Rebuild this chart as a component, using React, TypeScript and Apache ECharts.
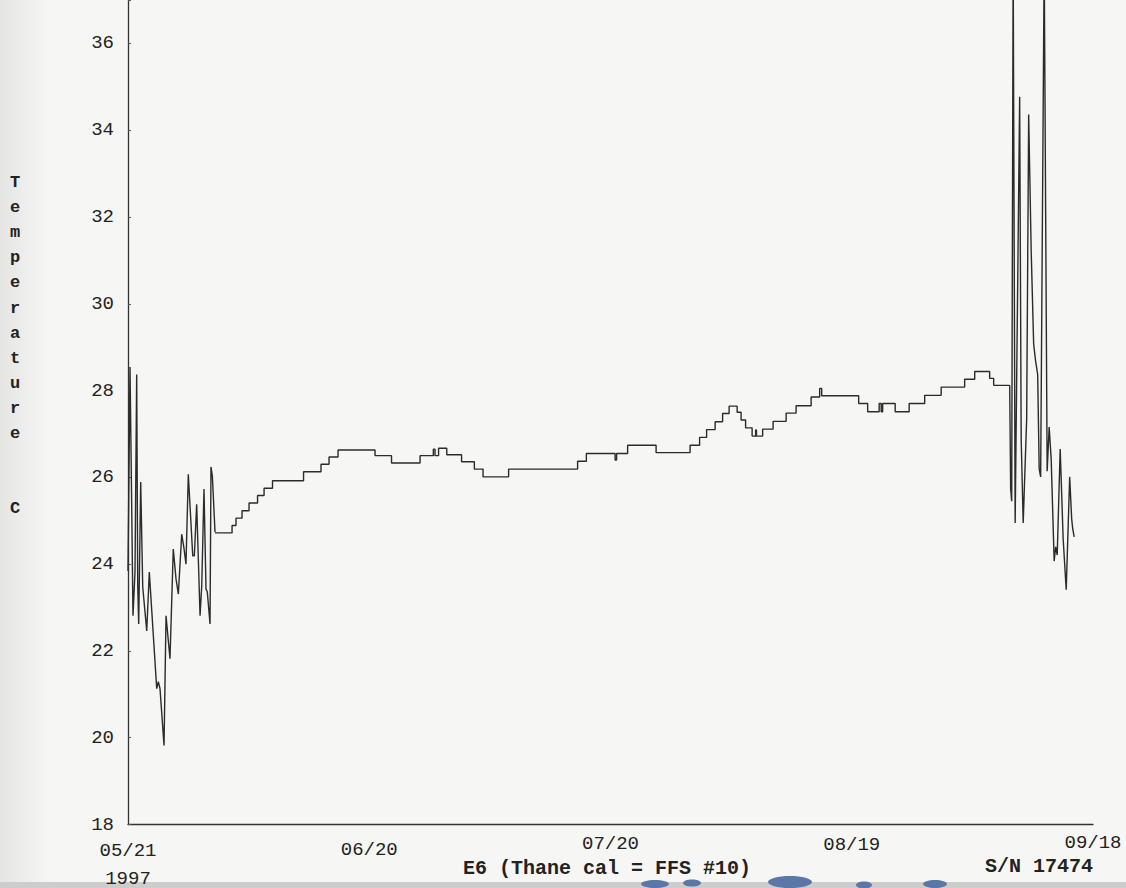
import React, { useEffect, useRef } from "react";
import * as echarts from "echarts";

// x values are days after 05/21/1997
const xTickLabels = ["05/21\n1997", "06/20", "07/20", "08/19", "09/18"];

// early, noisy part of the record
const earlyDays = [0, 0.25, 0.44, 0.62, 0.87, 1.08, 1.21, 1.33, 1.58, 1.83, 2.33, 2.65, 3.57, 3.77, 3.98, 4.48, 4.73, 5.22, 5.63, 5.97, 6.26, 6.68, 6.97, 7.21, 7.5, 8.05, 8.25, 8.54, 8.96, 9.17, 9.45, 9.7, 9.86, 10.2, 10.32, 10.49, 10.82];
const earlyTemps = [23.84, 28.54, 25.66, 22.81, 23.82, 28.37, 23.5, 22.62, 25.89, 23.48, 22.46, 23.82, 21.13, 21.29, 21.13, 19.82, 22.81, 21.82, 24.35, 23.66, 23.31, 24.69, 24.35, 24.0, 26.07, 24.19, 24.19, 25.38, 22.81, 23.5, 25.73, 23.43, 23.36, 22.62, 26.24, 26.03, 24.74];

// stepped (quantised) middle part: each value holds from its day to the next one
const stepDays = [10.82, 12.94, 13.43, 14.18, 15.05, 16.11, 16.92, 17.97, 21.83, 24.0, 25.0, 26.12, 30.72, 32.77, 36.32, 37.97, 38.18, 38.62, 39.64, 41.48, 43.07, 44.15, 47.33, 55.91, 57.0, 60.57, 60.76, 62.13, 65.67, 69.9, 71.08, 71.95, 73.01, 73.94, 74.75, 75.75, 76.24, 76.8, 77.61, 78.05, 78.15, 78.92, 80.22, 81.84, 83.08, 84.95, 86.01, 86.26, 90.86, 91.98, 93.41, 93.66, 93.84, 95.4, 97.14, 99.07, 101.12, 104.04, 105.29, 107.15, 107.65, 109.64];
const stepTemps = [24.72, 24.89, 25.06, 25.23, 25.41, 25.58, 25.75, 25.92, 26.13, 26.3, 26.47, 26.63, 26.5, 26.33, 26.5, 26.65, 26.5, 26.67, 26.52, 26.36, 26.19, 26.01, 26.19, 26.37, 26.55, 26.4, 26.55, 26.74, 26.57, 26.74, 26.92, 27.1, 27.28, 27.47, 27.64, 27.5, 27.32, 27.14, 26.95, 27.09, 26.95, 27.11, 27.29, 27.48, 27.65, 27.85, 28.05, 27.88, 27.7, 27.51, 27.7, 27.51, 27.7, 27.51, 27.7, 27.89, 28.08, 28.26, 28.44, 28.28, 28.12, 28.12];

// late, noisy part of the record
const lateDays = [109.64, 109.76, 109.89, 110.07, 110.32, 110.88, 111.07, 111.32, 111.75, 112.0, 112.31, 112.62, 112.87, 113.12, 113.31, 113.49, 113.93, 114.3, 114.55, 114.8, 115.17, 115.36, 115.55, 115.92, 116.29, 116.67, 117.1, 117.35, 117.48, 117.66];
const lateTemps = [28.12, 25.73, 25.45, 37.92, 24.95, 34.77, 26.88, 24.95, 27.34, 34.36, 31.25, 29.07, 28.67, 28.37, 26.19, 26.01, 37.92, 26.14, 27.16, 26.42, 24.07, 24.4, 24.21, 26.65, 24.58, 23.41, 26.01, 25.04, 24.81, 24.63];

const yAxisTitle = "Temperature  C";
const footLeft = "E6 (Thane cal = FFS #10)";
const footRight = "S/N 17474";

const pairs = (xs: number[], ys: number[]) => xs.map((x, i) => [x, ys[i]]);

export default function App() {
  const ref = useRef<HTMLDivElement>(null);

  useEffect(() => {
    document.body.style.margin = "0";
    if (!ref.current) return;
    const chart = echarts.init(ref.current, undefined, { renderer: "svg" });
    const mono = "'Liberation Mono', 'DejaVu Sans Mono', monospace";
    const lineStyle = { color: "#2b2b2b", width: 1.4 };
    const tickText = { fontFamily: mono, fontSize: 19, color: "#222" };
    // the scanned page is slightly rotated: labels sit a little lower on the left
    const lineHeights = [36, 34, 22, 24, 20];
    const ink = "#5b77a8";
    chart.setOption({
      animation: false,
      backgroundColor: "#f6f6f5",
      grid: { left: 128, right: 33, top: 0, bottom: 62, containLabel: false },
      xAxis: {
        type: "value",
        min: 0,
        max: 120,
        interval: 30,
        axisLine: { show: true, lineStyle: { color: "#333", width: 1.3 } },
        axisTick: { show: false },
        splitLine: { show: false },
        axisLabel: {
          margin: 8,
          ...tickText,
          formatter: (v: number) => {
            const i = Math.round(v / 30);
            const t = xTickLabels[i];
            if (t === undefined) return "";
            return t
              .split("\n")
              .map((s, k) => `{${k === 0 ? "p" + i : "q"}|${s}}`)
              .join("\n");
          },
          rich: {
            p0: { ...tickText, lineHeight: lineHeights[0] },
            p1: { ...tickText, lineHeight: lineHeights[1] },
            p2: { ...tickText, lineHeight: lineHeights[2] },
            p3: { ...tickText, lineHeight: lineHeights[3] },
            p4: { ...tickText, lineHeight: lineHeights[4] },
            q: { ...tickText, lineHeight: 20 },
          },
        },
      },
      yAxis: {
        type: "value",
        min: 18,
        max: 37,
        interval: 2,
        axisLine: { show: true, lineStyle: { color: "#333", width: 1.3 } },
        axisTick: { show: true, inside: true, length: 3, lineStyle: { color: "#555" } },
        splitLine: { show: false },
        axisLabel: {
          margin: 14,
          fontFamily: mono,
          fontSize: 19,
          color: "#222",
          formatter: (v: number) => (v % 2 === 0 ? String(v) : ""),
        },
      },
      graphic: [
        {
          type: "rect",
          z: -10,
          shape: { x: 0, y: 0, width: 50, height: 888 },
          style: {
            fill: new echarts.graphic.LinearGradient(0, 0, 1, 0, [
              { offset: 0, color: "rgba(0,0,0,0.07)" },
              { offset: 1, color: "rgba(0,0,0,0)" },
            ]),
          },
          silent: true,
        },
        {
          type: "rect",
          z: -10,
          shape: { x: 0, y: 882, width: 1126, height: 6 },
          style: { fill: "#cdcdcd" },
          silent: true,
        },
        { type: "ellipse", z: -5, shape: { cx: 655, cy: 884, rx: 14, ry: 4 }, style: { fill: ink }, silent: true },
        { type: "ellipse", z: -5, shape: { cx: 692, cy: 883, rx: 9, ry: 3.5 }, style: { fill: ink }, silent: true },
        { type: "ellipse", z: -5, shape: { cx: 790, cy: 882, rx: 22, ry: 6 }, style: { fill: ink }, silent: true },
        { type: "ellipse", z: -5, shape: { cx: 864, cy: 885, rx: 8, ry: 3.5 }, style: { fill: ink }, silent: true },
        { type: "ellipse", z: -5, shape: { cx: 935, cy: 884, rx: 12, ry: 4 }, style: { fill: ink }, silent: true },
        {
          type: "text",
          left: 10,
          top: 170,
          style: {
            text: yAxisTitle.split("").join("\n"),
            fontFamily: mono,
            fontSize: 17,
            fontWeight: "bold",
            lineHeight: 25.1,
            fill: "#222",
            align: "center",
          },
        },
        {
          type: "text",
          x: 463,
          y: 868,
          style: {
            text: footLeft,
            fontFamily: mono,
            fontSize: 20,
            fontWeight: "bold",
            fill: "#222",
            verticalAlign: "middle",
          },
        },
        {
          type: "text",
          x: 985,
          y: 866,
          style: {
            text: footRight,
            fontFamily: mono,
            fontSize: 20,
            fontWeight: "bold",
            fill: "#222",
            verticalAlign: "middle",
          },
        },
      ],
      series: [
        { type: "line", data: pairs(earlyDays, earlyTemps), showSymbol: false, symbol: "none", lineStyle, clip: true },
        { type: "line", step: "end", data: pairs(stepDays, stepTemps), showSymbol: false, symbol: "none", lineStyle, clip: true },
        { type: "line", data: pairs(lateDays, lateTemps), showSymbol: false, symbol: "none", lineStyle, clip: true },
      ],
    });
    return () => chart.dispose();
  }, []);

  return <div ref={ref} style={{ width: 1126, height: 888 }} />;
}
